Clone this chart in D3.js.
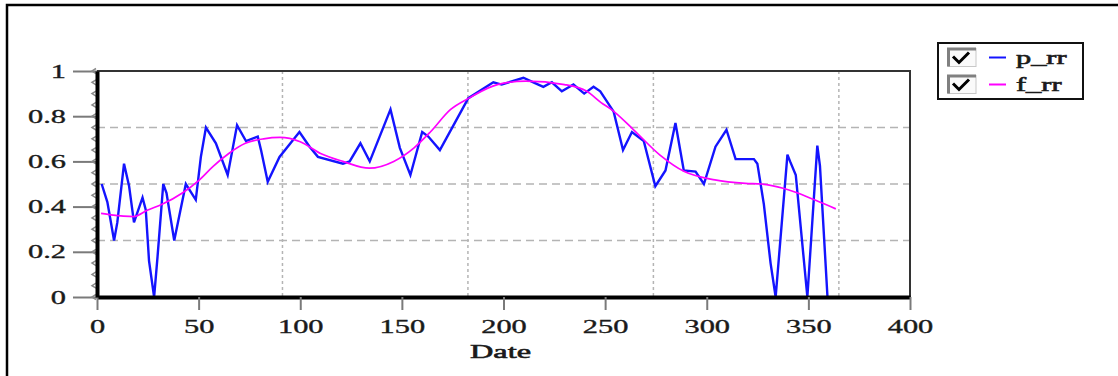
<!DOCTYPE html>
<html>
<head>
<meta charset="utf-8">
<script src="https://cdn.jsdelivr.net/npm/d3@7"></script>
<style>
  html, body { margin: 0; padding: 0; background: #fff; }
  svg { display: block; }
  text { font-family: "Liberation Serif", "Times New Roman", serif; fill: #1a1a1a; stroke: #1a1a1a; stroke-width: 0.35px; }
</style>
</head>
<body>
<div id="chart"></div>
<script>
// p_rr samples (day, value)
const pDays = [2.3, 5.1, 8.4, 10.0, 13.3, 15.8, 18.2, 22.4, 24.0, 25.6, 28.1, 29.8, 32.6, 34.2, 38.0, 43.7, 48.6, 51.1, 53.6, 58.5,
  64.3, 66.4, 68.9, 73.3, 79.1, 80.7, 84.0, 89.8, 99.6, 104.6, 108.7, 121.0, 124.3, 129.6, 134.2, 144.4, 149.0, 154.2, 160.0, 163.0,
  168.7, 182.7, 195.0, 199.1, 209.8, 214.7, 219.6, 223.8, 228.7, 234.4, 239.7, 244.3, 247.6, 254.2, 258.8, 263.2, 269.0, 274.7, 279.7, 284.6,
  288.7, 294.5, 298.6, 304.3, 309.7, 314.2, 323.2, 324.9, 328.1, 331.4, 333.9, 339.7, 341.0, 343.8, 349.5, 354.4, 355.7, 359.4];
const pRR = [0.50, 0.42, 0.25, 0.33, 0.59, 0.49, 0.33, 0.44, 0.385, 0.16, 0.0, 0.18, 0.50, 0.46, 0.25, 0.50, 0.43, 0.62, 0.75, 0.68,
  0.54, 0.64, 0.76, 0.69, 0.71, 0.65, 0.51, 0.62, 0.73, 0.665, 0.62, 0.59, 0.60, 0.68, 0.60, 0.83, 0.66, 0.54, 0.73, 0.71,
  0.65, 0.88, 0.95, 0.94, 0.97, 0.95, 0.93, 0.95, 0.91, 0.94, 0.90, 0.93, 0.91, 0.82, 0.65, 0.73, 0.69, 0.49, 0.56, 0.77,
  0.56, 0.555, 0.50, 0.665, 0.74, 0.61, 0.61, 0.59, 0.41, 0.15, 0.0, 0.63, 0.60, 0.54, 0.0, 0.67, 0.58, 0.0];

// f_rr smooth fit
const fDays = [2, 8, 13, 18, 25, 32, 42, 50, 57, 65, 73, 82, 90, 100, 110, 121, 134, 146, 156, 164,
  174, 183, 197, 211, 230, 241, 248, 253, 264, 277, 289, 304, 319, 327, 338, 343, 353, 363.5];
const fRR = [0.37, 0.362, 0.358, 0.356, 0.385, 0.41, 0.46, 0.515, 0.577, 0.636, 0.68, 0.70, 0.706, 0.687, 0.635, 0.60, 0.57, 0.60, 0.66, 0.73,
  0.83, 0.88, 0.94, 0.955, 0.94, 0.91, 0.86, 0.83, 0.74, 0.628, 0.555, 0.518, 0.503, 0.50, 0.48, 0.466, 0.43, 0.39];

const xTicks = [0, 50, 100, 150, 200, 250, 300, 350, 400];
const yTicks = [0, 0.2, 0.4, 0.6, 0.8, 1];
const gridX = [91.25, 182.5, 273.75, 365];
const gridY = [0.25, 0.5, 0.75];
const seriesNames = ["p_rr", "f_rr"];
const seriesColors = ["#1414ff", "#ff00ff"];

const W = 1118, H = 376;
const plot = {left: 97, right: 910, top: 71, bottom: 297};
const stretch = 1.6; // the text in the picture is drawn wide

const svg = d3.select("#chart").append("svg")
  .attr("width", W).attr("height", H);

// outer frame (right and bottom edges run off the picture)
svg.append("rect")
  .attr("x", 7).attr("y", 5).attr("width", W + 20).attr("height", H + 20)
  .attr("fill", "none").attr("stroke", "#000").attr("stroke-width", 2.5);

const xScale = d3.scaleLinear().domain([0, 400]).range([plot.left, plot.right]);
const yScale = d3.scaleLinear().domain([0, 1]).range([plot.bottom, plot.top]);

// grid
svg.append("g").selectAll("line").data(gridY).join("line")
  .attr("x1", plot.left).attr("x2", plot.right)
  .attr("y1", d => yScale(d)).attr("y2", d => yScale(d))
  .attr("stroke", "#b4b4b4").attr("stroke-width", 1.5).attr("stroke-dasharray", "8,5");
svg.append("g").selectAll("line").data(gridX).join("line")
  .attr("x1", d => xScale(d)).attr("x2", d => xScale(d))
  .attr("y1", plot.top).attr("y2", plot.bottom)
  .attr("stroke", "#b4b4b4").attr("stroke-width", 1.5).attr("stroke-dasharray", "3,3");

// top and right border
svg.append("path")
  .attr("d", `M${plot.left},${plot.top}H${plot.right}V${plot.bottom}`)
  .attr("fill", "none").attr("stroke", "#333").attr("stroke-width", 2);

// series
const lineGen = d3.line().x(d => xScale(d[0])).y(d => yScale(d[1]));
svg.append("path")
  .datum(pDays.map((d, i) => [d, pRR[i]]))
  .attr("d", lineGen)
  .attr("fill", "none").attr("stroke", seriesColors[0]).attr("stroke-width", 2.4)
  .attr("stroke-linejoin", "miter");
svg.append("path")
  .datum(fDays.map((d, i) => [d, fRR[i]]))
  .attr("d", lineGen.curve(d3.curveMonotoneX))
  .attr("fill", "none").attr("stroke", seriesColors[1]).attr("stroke-width", 1.7);

// x axis
const xAxisG = svg.append("g")
  .attr("transform", `translate(0,${plot.bottom})`)
  .call(d3.axisBottom(xScale).tickValues(xTicks).tickSize(13).tickSizeOuter(0).tickPadding(10));
xAxisG.select(".domain").attr("stroke", "#000").attr("stroke-width", 4);
xAxisG.selectAll(".tick line").attr("stroke", "#7a7a7a").attr("stroke-width", 2);
xAxisG.selectAll(".tick text")
  .attr("font-size", 19).attr("font-family", null).attr("fill", "#1a1a1a")
  .attr("transform", `scale(${stretch},1)`);

// y axis
const yAxisG = svg.append("g")
  .attr("transform", `translate(${plot.left},0)`)
  .call(d3.axisLeft(yScale).tickValues(yTicks).tickSize(24).tickSizeOuter(0).tickFormat(d => String(d)));
yAxisG.selectAll(".tick line").attr("stroke", "#7a7a7a").attr("stroke-width", 2);
yAxisG.selectAll(".tick text")
  .attr("font-size", 19).attr("font-family", null).attr("fill", "#1a1a1a")
  .attr("x", -31 / stretch)
  .attr("transform", `scale(${stretch},1)`);

// small notches along the left axis
yAxisG.append("g").selectAll("path").data(yScale.ticks(20)).join("path")
  .attr("d", d => `M-1,${yScale(d) - 2.5}L-5,${yScale(d)}L-1,${yScale(d) + 2.5}`)
  .attr("fill", "none").attr("stroke", "#8a8a8a").attr("stroke-width", 1.5);
yAxisG.select(".domain").raise().attr("stroke", "#000").attr("stroke-width", 4);

// axis title
svg.append("text")
  .attr("transform", `translate(${(plot.left + plot.right) / 2 - 3},358) scale(1.7,1)`)
  .attr("text-anchor", "middle").attr("font-size", 19).style("stroke-width", "0.6px")
  .text("Date");

// legend
const legend = svg.append("g");
legend.append("rect")
  .attr("x", 938).attr("y", 43).attr("width", 145).attr("height", 56)
  .attr("fill", "#fff").attr("stroke", "#111").attr("stroke-width", 2);
const rows = legend.selectAll("g.row").data(seriesNames).join("g")
  .attr("class", "row")
  .attr("transform", (d, i) => `translate(0,${57.5 + i * 27})`);
rows.append("rect")
  .attr("x", 948).attr("y", -9).attr("width", 28).attr("height", 18)
  .attr("fill", "#fafafa").attr("stroke", "#c8c8c8").attr("stroke-width", 1);
rows.append("path")
  .attr("d", "M948.5,9V-8.5H976")
  .attr("fill", "none").attr("stroke", "#808080").attr("stroke-width", 3);
rows.append("path")
  .attr("d", "M953,-1L959,5L969,-5")
  .attr("fill", "none").attr("stroke", "#000").attr("stroke-width", 3);
rows.append("line")
  .attr("x1", 989).attr("x2", 1006).attr("y1", 0).attr("y2", 0)
  .attr("stroke", (d, i) => seriesColors[i]).attr("stroke-width", 2);
rows.append("text")
  .attr("transform", `translate(1016,6) scale(${stretch},1)`)
  .attr("font-size", 19).style("stroke-width", "0.6px")
  .text(d => d);
</script>
</body>
</html>
